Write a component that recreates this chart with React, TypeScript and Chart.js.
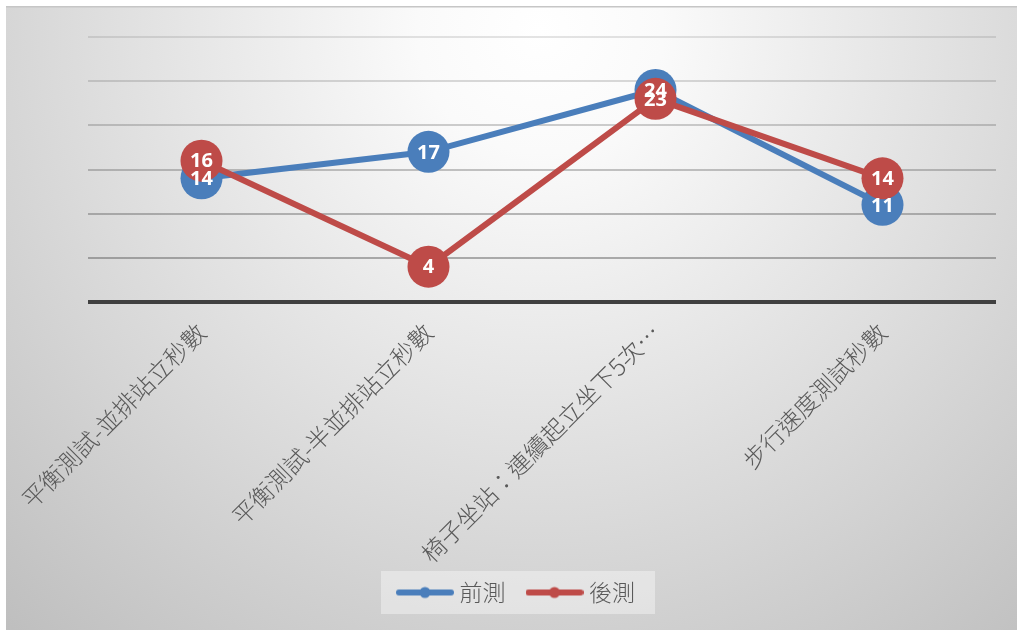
import React, { useEffect, useRef } from "react";
import { Chart, registerables } from "chart.js";

Chart.register(...registerables);

const categories = [
  "平衡測試-並排站立秒數",
  "平衡測試-半並排站立秒數",
  "椅子坐站：連續起立坐下5次…",
  "步行速度測試秒數",
];
const preValues = [14, 17, 24, 11];
const postValues = [16, 4, 23, 14];
const seriesNames = ["前測", "後測"];
const seriesColors = ["#4a7ebb", "#be4b48"];
const yMin = 0;
const yMax = 30;
const yStep = 5;

const CJK = '"Noto Sans CJK TC", "Noto Sans CJK SC", sans-serif';

function makeMarker(color: string): HTMLCanvasElement {
  const c = document.createElement("canvas");
  c.width = 58;
  c.height = 14;
  const ctx = c.getContext("2d")!;
  ctx.strokeStyle = color;
  ctx.lineWidth = 6;
  ctx.lineCap = "round";
  ctx.beginPath();
  ctx.moveTo(3, 7);
  ctx.lineTo(55, 7);
  ctx.stroke();
  ctx.fillStyle = color;
  ctx.beginPath();
  ctx.arc(29, 7, 5.5, 0, Math.PI * 2);
  ctx.fill();
  return c;
}

const backgroundPlugin = {
  id: "bgPlugin",
  beforeDraw(chart: any) {
    const { ctx, width, height } = chart;
    ctx.save();
    ctx.fillStyle = "#ffffff";
    ctx.fillRect(0, 0, width, height);
    const g = ctx.createRadialGradient(540, 30, 0, 540, 30, 820);
    g.addColorStop(0, "#ffffff");
    g.addColorStop(0.15, "#fafafa");
    g.addColorStop(1, "#bdbdbd");
    ctx.fillStyle = g;
    ctx.fillRect(6, 6, width - 6, height - 6);
    ctx.strokeStyle = "#c6c6c6";
    ctx.lineWidth = 1.5;
    ctx.beginPath();
    ctx.moveTo(6, 6.75);
    ctx.lineTo(width, 6.75);
    ctx.stroke();
    // legend background box
    const lg = chart.legend;
    if (lg && lg.legendHitBoxes && lg.legendHitBoxes.length) {
      const hb = lg.legendHitBoxes;
      const first = hb[0];
      const last = hb[hb.length - 1];
      const x0 = first.left - 21;
      const x1 = last.left + last.width + 20;
      const y0 = first.top - 10;
      const y1 = first.top + first.height + 10;
      ctx.fillStyle = "rgba(255,255,255,0.38)";
      ctx.fillRect(x0, y0, x1 - x0, y1 - y0);
    }
    ctx.restore();
  },
};

const dataLabelPlugin = {
  id: "dataLabels",
  afterDatasetsDraw(chart: any) {
    const { ctx } = chart;
    ctx.save();
    ctx.fillStyle = "#ffffff";
    ctx.font = 'bold 20px "Noto Sans", "Open Sans", sans-serif';
    ctx.textAlign = "center";
    ctx.textBaseline = "middle";
    chart.data.datasets.forEach((ds: any, i: number) => {
      const meta = chart.getDatasetMeta(i);
      meta.data.forEach((pt: any, j: number) => {
        ctx.fillText(String(ds.data[j]), pt.x, pt.y + 1);
      });
    });
    ctx.restore();
  },
};

export default function App() {
  const ref = useRef<HTMLCanvasElement | null>(null);

  useEffect(() => {
    if (!ref.current) return;
    const markers = seriesColors.map((c) => makeMarker(c));
    const chart = new Chart(ref.current, {
      type: "line",
      data: {
        labels: categories,
        datasets: [
          {
            label: seriesNames[0],
            data: preValues,
            borderColor: seriesColors[0],
            backgroundColor: seriesColors[0],
            borderWidth: 6,
            pointRadius: 21,
            pointHoverRadius: 21,
            pointBorderWidth: 0,
            pointBackgroundColor: seriesColors[0],
            order: 1,
          },
          {
            label: seriesNames[1],
            data: postValues,
            borderColor: seriesColors[1],
            backgroundColor: seriesColors[1],
            borderWidth: 6,
            pointRadius: 21,
            pointHoverRadius: 21,
            pointBorderWidth: 0,
            pointBackgroundColor: seriesColors[1],
            order: 0,
          },
        ],
      },
      options: {
        animation: false,
        responsive: false,
        events: [],
        layout: { padding: { left: 40, right: 20, top: 37, bottom: 16 } },
        scales: {
          x: {
            offset: true,
            grid: { display: false },
            border: { display: false },
            ticks: {
              autoSkip: false,
              maxRotation: 45,
              minRotation: 45,
              color: "#595959",
              padding: 8,
              font: { family: CJK, size: 24, weight: "300" as any },
            },
            afterFit(scale: any) {
              scale.height = 253;
              // let the long rotated label run past the axis box (no clipping)
              scale._computeLabelArea = () => undefined;
            },
          },
          y: {
            min: yMin,
            max: yMax,
            ticks: { stepSize: yStep, display: false },
            border: { display: false },
            grid: {
              drawTicks: false,
              color: (ctx: any) => {
                const v = ctx.tick ? ctx.tick.value : 0;
                if (v === 0) return "#404040";
                const a = 0.55 - (v / yMax) * 0.38;
                return `rgba(95,95,95,${a.toFixed(3)})`;
              },
              lineWidth: (ctx: any) => (ctx.tick && ctx.tick.value === 0 ? 4 : 2),
            },
            afterFit(scale: any) {
              scale.width = 48;
            },
          },
        },
        plugins: {
          tooltip: { enabled: false },
          legend: {
            position: "bottom",
            labels: {
              usePointStyle: true,
              pointStyleWidth: 46,
              padding: 26,
              color: "#595959",
              font: { family: CJK, size: 23, weight: "300" as any },
              generateLabels(chart: any) {
                return chart.data.datasets.map((ds: any, i: number) => ({
                  text: ds.label,
                  fillStyle: ds.backgroundColor,
                  strokeStyle: ds.borderColor,
                  lineWidth: 0,
                  pointStyle: markers[i],
                  hidden: false,
                  datasetIndex: i,
                  fontColor: "#595959",
                }));
              },
            },
          },
        },
      },
      plugins: [backgroundPlugin, dataLabelPlugin],
    });
    return () => chart.destroy();
  }, []);

  return (
    <div style={{ position: "fixed", left: 0, top: 0, width: 1017, height: 630 }}>
      <canvas ref={ref} width={1017} height={630} style={{ display: "block" }} />
    </div>
  );
}
